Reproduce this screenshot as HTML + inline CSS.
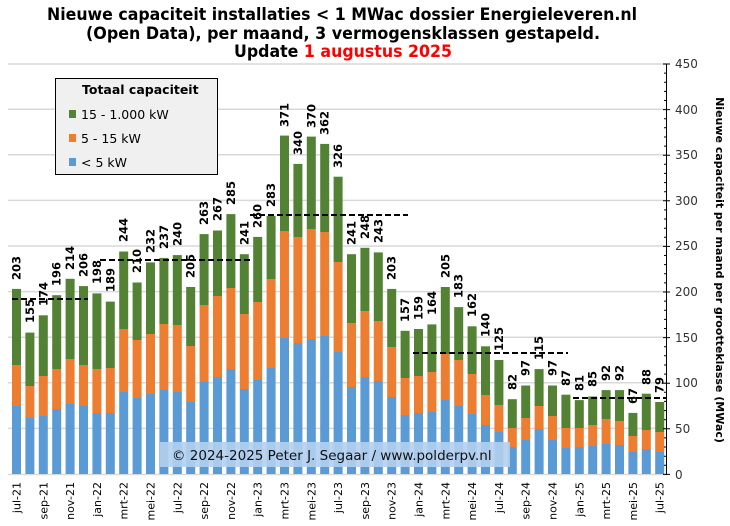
<!DOCTYPE html>
<html><head><meta charset="utf-8"><style>body{margin:0;background:#fff}svg{display:block}text{font-family:"DejaVu Sans","Liberation Sans",sans-serif}</style></head><body>
<svg width="730" height="526" viewBox="0 0 730 526" xmlns="http://www.w3.org/2000/svg">
<g font-family="Liberation Sans, sans-serif" font-weight="bold" font-size="17" text-anchor="middle">
<text x="342" y="20" textLength="590" lengthAdjust="spacingAndGlyphs">Nieuwe capaciteit installaties  &lt; 1 MWac dossier Energieleveren.nl</text>
<text x="343" y="39" textLength="514" lengthAdjust="spacingAndGlyphs">(Open Data), per maand, 3 vermogensklassen  gestapeld.</text>
<text x="343" y="57" textLength="218" lengthAdjust="spacingAndGlyphs">Update <tspan fill="#ff0000">1 augustus 2025</tspan></text>
</g>
<g stroke="#d9d9d9" stroke-width="1.5">
<line x1="8" x2="666" y1="64" y2="64"/><line x1="8" x2="666" y1="109.2" y2="109.2"/><line x1="8" x2="666" y1="154.8" y2="154.8"/><line x1="8" x2="666" y1="200.4" y2="200.4"/><line x1="8" x2="666" y1="246" y2="246"/><line x1="8" x2="666" y1="291.6" y2="291.6"/><line x1="8" x2="666" y1="337.2" y2="337.2"/><line x1="8" x2="666" y1="382.8" y2="382.8"/><line x1="8" x2="666" y1="428.4" y2="428.4"/><line x1="8" x2="666" y1="474.5" y2="474.5"/>
</g>
<g id="bars" font-size="11" font-weight="bold">
<g transform="translate(12,0)"><rect y="288.9" width="9" height="76.1" fill="#548235"/><rect y="365" width="9" height="41" fill="#ed7d31"/><rect y="406" width="9" height="68" fill="#5b9bd5"/></g>
<g transform="translate(25.4,0)"><rect y="332.6" width="9" height="53.4" fill="#548235"/><rect y="386" width="9" height="32" fill="#ed7d31"/><rect y="418" width="9" height="56" fill="#5b9bd5"/></g>
<g transform="translate(38.8,0)"><rect y="315.3" width="9" height="60.7" fill="#548235"/><rect y="376" width="9" height="40" fill="#ed7d31"/><rect y="416" width="9" height="58" fill="#5b9bd5"/></g>
<g transform="translate(52.2,0)"><rect y="295.2" width="9" height="73.8" fill="#548235"/><rect y="369" width="9" height="40" fill="#ed7d31"/><rect y="409" width="9" height="65" fill="#5b9bd5"/></g>
<g transform="translate(65.6,0)"><rect y="278.8" width="9" height="80.2" fill="#548235"/><rect y="359" width="9" height="45" fill="#ed7d31"/><rect y="404" width="9" height="70" fill="#5b9bd5"/></g>
<g transform="translate(79,0)"><rect y="286.1" width="9" height="78.9" fill="#548235"/><rect y="365" width="9" height="41" fill="#ed7d31"/><rect y="406" width="9" height="68" fill="#5b9bd5"/></g>
<g transform="translate(92.4,0)"><rect y="293.4" width="9" height="75.6" fill="#548235"/><rect y="369" width="9" height="44" fill="#ed7d31"/><rect y="413" width="9" height="61" fill="#5b9bd5"/></g>
<g transform="translate(105.8,0)"><rect y="301.6" width="9" height="66.4" fill="#548235"/><rect y="368" width="9" height="45" fill="#ed7d31"/><rect y="413" width="9" height="61" fill="#5b9bd5"/></g>
<g transform="translate(119.2,0)"><rect y="251.5" width="9" height="77.5" fill="#548235"/><rect y="329" width="9" height="63" fill="#ed7d31"/><rect y="392" width="9" height="82" fill="#5b9bd5"/></g>
<g transform="translate(132.6,0)"><rect y="282.5" width="9" height="57.5" fill="#548235"/><rect y="340" width="9" height="58" fill="#ed7d31"/><rect y="398" width="9" height="76" fill="#5b9bd5"/></g>
<g transform="translate(146,0)"><rect y="262.4" width="9" height="71.6" fill="#548235"/><rect y="334" width="9" height="60" fill="#ed7d31"/><rect y="394" width="9" height="80" fill="#5b9bd5"/></g>
<g transform="translate(159.4,0)"><rect y="257.9" width="9" height="66.1" fill="#548235"/><rect y="324" width="9" height="66" fill="#ed7d31"/><rect y="390" width="9" height="84" fill="#5b9bd5"/></g>
<g transform="translate(172.8,0)"><rect y="255.1" width="9" height="69.9" fill="#548235"/><rect y="325" width="9" height="67" fill="#ed7d31"/><rect y="392" width="9" height="82" fill="#5b9bd5"/></g>
<g transform="translate(186.2,0)"><rect y="287" width="9" height="59" fill="#548235"/><rect y="346" width="9" height="56" fill="#ed7d31"/><rect y="402" width="9" height="72" fill="#5b9bd5"/></g>
<g transform="translate(199.6,0)"><rect y="234.1" width="9" height="70.9" fill="#548235"/><rect y="305" width="9" height="77" fill="#ed7d31"/><rect y="382" width="9" height="92" fill="#5b9bd5"/></g>
<g transform="translate(213,0)"><rect y="230.5" width="9" height="65.5" fill="#548235"/><rect y="296" width="9" height="81" fill="#ed7d31"/><rect y="377" width="9" height="97" fill="#5b9bd5"/></g>
<g transform="translate(226.4,0)"><rect y="214.1" width="9" height="73.9" fill="#548235"/><rect y="288" width="9" height="81" fill="#ed7d31"/><rect y="369" width="9" height="105" fill="#5b9bd5"/></g>
<g transform="translate(239.8,0)"><rect y="254.2" width="9" height="59.8" fill="#548235"/><rect y="314" width="9" height="75" fill="#ed7d31"/><rect y="389" width="9" height="85" fill="#5b9bd5"/></g>
<g transform="translate(253.2,0)"><rect y="236.9" width="9" height="65.1" fill="#548235"/><rect y="302" width="9" height="78" fill="#ed7d31"/><rect y="380" width="9" height="94" fill="#5b9bd5"/></g>
<g transform="translate(266.6,0)"><rect y="215.9" width="9" height="63.1" fill="#548235"/><rect y="279" width="9" height="89" fill="#ed7d31"/><rect y="368" width="9" height="106" fill="#5b9bd5"/></g>
<g transform="translate(280,0)"><rect y="135.6" width="9" height="95.4" fill="#548235"/><rect y="231" width="9" height="107" fill="#ed7d31"/><rect y="338" width="9" height="136" fill="#5b9bd5"/></g>
<g transform="translate(293.4,0)"><rect y="163.9" width="9" height="73.1" fill="#548235"/><rect y="237" width="9" height="106" fill="#ed7d31"/><rect y="343" width="9" height="131" fill="#5b9bd5"/></g>
<g transform="translate(306.8,0)"><rect y="136.6" width="9" height="92.4" fill="#548235"/><rect y="229" width="9" height="110" fill="#ed7d31"/><rect y="339" width="9" height="135" fill="#5b9bd5"/></g>
<g transform="translate(320.2,0)"><rect y="143.9" width="9" height="88.1" fill="#548235"/><rect y="232" width="9" height="104" fill="#ed7d31"/><rect y="336" width="9" height="138" fill="#5b9bd5"/></g>
<g transform="translate(333.6,0)"><rect y="176.7" width="9" height="85.3" fill="#548235"/><rect y="262" width="9" height="90" fill="#ed7d31"/><rect y="352" width="9" height="122" fill="#5b9bd5"/></g>
<g transform="translate(347,0)"><rect y="254.2" width="9" height="68.8" fill="#548235"/><rect y="323" width="9" height="64" fill="#ed7d31"/><rect y="387" width="9" height="87" fill="#5b9bd5"/></g>
<g transform="translate(360.4,0)"><rect y="247.8" width="9" height="63.2" fill="#548235"/><rect y="311" width="9" height="66" fill="#ed7d31"/><rect y="377" width="9" height="97" fill="#5b9bd5"/></g>
<g transform="translate(373.8,0)"><rect y="252.4" width="9" height="68.6" fill="#548235"/><rect y="321" width="9" height="60" fill="#ed7d31"/><rect y="381" width="9" height="93" fill="#5b9bd5"/></g>
<g transform="translate(387.2,0)"><rect y="288.9" width="9" height="58.1" fill="#548235"/><rect y="347" width="9" height="50" fill="#ed7d31"/><rect y="397" width="9" height="77" fill="#5b9bd5"/></g>
<g transform="translate(400.6,0)"><rect y="330.8" width="9" height="47.2" fill="#548235"/><rect y="378" width="9" height="37" fill="#ed7d31"/><rect y="415" width="9" height="59" fill="#5b9bd5"/></g>
<g transform="translate(414,0)"><rect y="329" width="9" height="47" fill="#548235"/><rect y="376" width="9" height="37" fill="#ed7d31"/><rect y="413" width="9" height="61" fill="#5b9bd5"/></g>
<g transform="translate(427.4,0)"><rect y="324.4" width="9" height="47.6" fill="#548235"/><rect y="372" width="9" height="40" fill="#ed7d31"/><rect y="412" width="9" height="62" fill="#5b9bd5"/></g>
<g transform="translate(440.8,0)"><rect y="287" width="9" height="67" fill="#548235"/><rect y="354" width="9" height="46" fill="#ed7d31"/><rect y="400" width="9" height="74" fill="#5b9bd5"/></g>
<g transform="translate(454.2,0)"><rect y="307.1" width="9" height="52.9" fill="#548235"/><rect y="360" width="9" height="46" fill="#ed7d31"/><rect y="406" width="9" height="68" fill="#5b9bd5"/></g>
<g transform="translate(467.6,0)"><rect y="326.3" width="9" height="47.7" fill="#548235"/><rect y="374" width="9" height="40" fill="#ed7d31"/><rect y="414" width="9" height="60" fill="#5b9bd5"/></g>
<g transform="translate(481,0)"><rect y="346.3" width="9" height="48.7" fill="#548235"/><rect y="395" width="9" height="30" fill="#ed7d31"/><rect y="425" width="9" height="49" fill="#5b9bd5"/></g>
<g transform="translate(494.4,0)"><rect y="360" width="9" height="45" fill="#548235"/><rect y="405" width="9" height="27" fill="#ed7d31"/><rect y="432" width="9" height="42" fill="#5b9bd5"/></g>
<g transform="translate(507.8,0)"><rect y="399.2" width="9" height="28.8" fill="#548235"/><rect y="428" width="9" height="19" fill="#ed7d31"/><rect y="447" width="9" height="27" fill="#5b9bd5"/></g>
<g transform="translate(521.2,0)"><rect y="385.5" width="9" height="32.5" fill="#548235"/><rect y="418" width="9" height="22" fill="#ed7d31"/><rect y="440" width="9" height="34" fill="#5b9bd5"/></g>
<g transform="translate(534.6,0)"><rect y="369.1" width="9" height="36.9" fill="#548235"/><rect y="406" width="9" height="23" fill="#ed7d31"/><rect y="429" width="9" height="45" fill="#5b9bd5"/></g>
<g transform="translate(548,0)"><rect y="385.5" width="9" height="30.5" fill="#548235"/><rect y="416" width="9" height="24" fill="#ed7d31"/><rect y="440" width="9" height="34" fill="#5b9bd5"/></g>
<g transform="translate(561.4,0)"><rect y="394.7" width="9" height="33.3" fill="#548235"/><rect y="428" width="9" height="20" fill="#ed7d31"/><rect y="448" width="9" height="26" fill="#5b9bd5"/></g>
<g transform="translate(574.8,0)"><rect y="400.1" width="9" height="27.9" fill="#548235"/><rect y="428" width="9" height="19" fill="#ed7d31"/><rect y="447" width="9" height="27" fill="#5b9bd5"/></g>
<g transform="translate(588.2,0)"><rect y="396.5" width="9" height="28.5" fill="#548235"/><rect y="425" width="9" height="21" fill="#ed7d31"/><rect y="446" width="9" height="28" fill="#5b9bd5"/></g>
<g transform="translate(601.6,0)"><rect y="390.1" width="9" height="28.9" fill="#548235"/><rect y="419" width="9" height="25" fill="#ed7d31"/><rect y="444" width="9" height="30" fill="#5b9bd5"/></g>
<g transform="translate(615,0)"><rect y="390.1" width="9" height="30.9" fill="#548235"/><rect y="421" width="9" height="24" fill="#ed7d31"/><rect y="445" width="9" height="29" fill="#5b9bd5"/></g>
<g transform="translate(628.4,0)"><rect y="412.9" width="9" height="23.1" fill="#548235"/><rect y="436" width="9" height="16" fill="#ed7d31"/><rect y="452" width="9" height="22" fill="#5b9bd5"/></g>
<g transform="translate(641.8,0)"><rect y="393.7" width="9" height="36.3" fill="#548235"/><rect y="430" width="9" height="19" fill="#ed7d31"/><rect y="449" width="9" height="25" fill="#5b9bd5"/></g>
<g transform="translate(655.2,0)"><rect y="402" width="9" height="30" fill="#548235"/><rect y="432" width="9" height="20" fill="#ed7d31"/><rect y="452" width="9" height="22" fill="#5b9bd5"/></g>
</g>
<g font-size="11.5" font-weight="bold" fill="#000">
<text transform="translate(20.5,280) rotate(-90)">203</text>
<text transform="translate(33.9,323) rotate(-90)">155</text>
<text transform="translate(47.3,306) rotate(-90)">174</text>
<text transform="translate(60.7,286) rotate(-90)">196</text>
<text transform="translate(74.1,270) rotate(-90)">214</text>
<text transform="translate(87.5,277) rotate(-90)">206</text>
<text transform="translate(100.9,284) rotate(-90)">198</text>
<text transform="translate(114.3,292) rotate(-90)">189</text>
<text transform="translate(127.7,242) rotate(-90)">244</text>
<text transform="translate(141.1,273) rotate(-90)">210</text>
<text transform="translate(154.5,253) rotate(-90)">232</text>
<text transform="translate(167.9,249) rotate(-90)">237</text>
<text transform="translate(181.3,246) rotate(-90)">240</text>
<text transform="translate(194.7,278) rotate(-90)">205</text>
<text transform="translate(208.1,225) rotate(-90)">263</text>
<text transform="translate(221.5,221) rotate(-90)">267</text>
<text transform="translate(234.9,205) rotate(-90)">285</text>
<text transform="translate(248.3,245) rotate(-90)">241</text>
<text transform="translate(261.7,228) rotate(-90)">260</text>
<text transform="translate(275.1,207) rotate(-90)">283</text>
<text transform="translate(288.5,127) rotate(-90)">371</text>
<text transform="translate(301.9,155) rotate(-90)">340</text>
<text transform="translate(315.3,128) rotate(-90)">370</text>
<text transform="translate(328.7,135) rotate(-90)">362</text>
<text transform="translate(342.1,168) rotate(-90)">326</text>
<text transform="translate(355.5,245) rotate(-90)">241</text>
<text transform="translate(368.9,239) rotate(-90)">248</text>
<text transform="translate(382.3,243) rotate(-90)">243</text>
<text transform="translate(395.7,280) rotate(-90)">203</text>
<text transform="translate(409.1,322) rotate(-90)">157</text>
<text transform="translate(422.5,320) rotate(-90)">159</text>
<text transform="translate(435.9,315) rotate(-90)">164</text>
<text transform="translate(449.3,278) rotate(-90)">205</text>
<text transform="translate(462.7,298) rotate(-90)">183</text>
<text transform="translate(476.1,317) rotate(-90)">162</text>
<text transform="translate(489.5,337) rotate(-90)">140</text>
<text transform="translate(502.9,351) rotate(-90)">125</text>
<text transform="translate(516.3,390) rotate(-90)">82</text>
<text transform="translate(529.7,376) rotate(-90)">97</text>
<text transform="translate(543.1,360) rotate(-90)">115</text>
<text transform="translate(556.5,376) rotate(-90)">97</text>
<text transform="translate(569.9,386) rotate(-90)">87</text>
<text transform="translate(583.3,391) rotate(-90)">81</text>
<text transform="translate(596.7,387) rotate(-90)">85</text>
<text transform="translate(610.1,381) rotate(-90)">92</text>
<text transform="translate(623.5,381) rotate(-90)">92</text>
<text transform="translate(636.9,404) rotate(-90)">67</text>
<text transform="translate(650.3,385) rotate(-90)">88</text>
<text transform="translate(663.7,393) rotate(-90)">79</text>
</g>
<g stroke="#000" stroke-width="2" stroke-dasharray="6,3">
<line x1="12" x2="88" y1="299" y2="299"/>
<line x1="100" x2="251" y1="260" y2="260"/>
<line x1="250" x2="408" y1="215" y2="215"/>
<line x1="413" x2="568" y1="353" y2="353"/>
<line x1="573" x2="666" y1="398" y2="398"/>
</g>
<rect x="160" y="442" width="350" height="25" fill="#b4d0f0" opacity="0.9"/>
<text x="172" y="460" font-size="13.5" fill="#111">© 2024-2025  Peter J. Segaar / www.polderpv.nl</text>
<rect x="55.5" y="78.5" width="162" height="96" fill="#f0f0f0" stroke="#000" stroke-width="1"/>
<text x="82" y="94" font-size="12.5" font-weight="bold">Totaal capaciteit</text>
<rect x="69" y="110" width="7" height="8" fill="#548235"/><text x="81" y="119" font-size="12.5">15 - 1.000 kW</text>
<rect x="69" y="134" width="7" height="8" fill="#ed7d31"/><text x="81" y="143" font-size="12.5">5 - 15 kW</text>
<rect x="69" y="158" width="7" height="8" fill="#5b9bd5"/><text x="81" y="167" font-size="12.5">&lt; 5 kW</text>
<g stroke="#000" stroke-width="1">
<line x1="666.5" x2="666.5" y1="64" y2="475"/>
<path d="M663 64h7M663 109.6h7M663 155.2h7M663 200.8h7M663 246.4h7M663 292h7M663 337.6h7M663 383.2h7M663 428.8h7M663 474.4h7"/>
<path d="M664 73.1h3M664 82.2h3M664 91.4h3M664 100.5h3M664 118.7h3M664 127.8h3M664 137h3M664 146.1h3M664 164.3h3M664 173.4h3M664 182.6h3M664 191.7h3M664 209.9h3M664 219h3M664 228.2h3M664 237.3h3M664 255.5h3M664 264.6h3M664 273.8h3M664 282.9h3M664 301.1h3M664 310.2h3M664 319.4h3M664 328.5h3M664 346.7h3M664 355.8h3M664 365h3M664 374.1h3M664 392.3h3M664 401.4h3M664 410.6h3M664 419.7h3M664 437.9h3M664 447h3M664 456.2h3M664 465.3h3"/>
</g>
<g font-size="12" fill="#333">
<text x="675" y="68">450</text><text x="675" y="114">400</text><text x="675" y="159">350</text><text x="675" y="205">300</text><text x="675" y="250">250</text><text x="675" y="296">200</text><text x="675" y="342">150</text><text x="675" y="387">100</text><text x="675" y="433">50</text><text x="675" y="479">0</text>
</g>
<text transform="translate(716,270) rotate(90)" font-size="11" font-weight="bold" text-anchor="middle">Nieuwe capaciteit per maand per grootteklasse (MWac)</text>
<g font-size="11" text-anchor="end" fill="#000">
<text transform="translate(20.5,482) rotate(-90)">jul-21</text>
<text transform="translate(47.3,482) rotate(-90)">sep-21</text>
<text transform="translate(74.1,482) rotate(-90)">nov-21</text>
<text transform="translate(100.9,482) rotate(-90)">jan-22</text>
<text transform="translate(127.7,482) rotate(-90)">mrt-22</text>
<text transform="translate(154.5,482) rotate(-90)">mei-22</text>
<text transform="translate(181.3,482) rotate(-90)">jul-22</text>
<text transform="translate(208.1,482) rotate(-90)">sep-22</text>
<text transform="translate(234.9,482) rotate(-90)">nov-22</text>
<text transform="translate(261.7,482) rotate(-90)">jan-23</text>
<text transform="translate(288.5,482) rotate(-90)">mrt-23</text>
<text transform="translate(315.3,482) rotate(-90)">mei-23</text>
<text transform="translate(342.1,482) rotate(-90)">jul-23</text>
<text transform="translate(368.9,482) rotate(-90)">sep-23</text>
<text transform="translate(395.7,482) rotate(-90)">nov-23</text>
<text transform="translate(422.5,482) rotate(-90)">jan-24</text>
<text transform="translate(449.3,482) rotate(-90)">mrt-24</text>
<text transform="translate(476.1,482) rotate(-90)">mei-24</text>
<text transform="translate(502.9,482) rotate(-90)">jul-24</text>
<text transform="translate(529.7,482) rotate(-90)">sep-24</text>
<text transform="translate(556.5,482) rotate(-90)">nov-24</text>
<text transform="translate(583.3,482) rotate(-90)">jan-25</text>
<text transform="translate(610.1,482) rotate(-90)">mrt-25</text>
<text transform="translate(636.9,482) rotate(-90)">mei-25</text>
<text transform="translate(663.7,482) rotate(-90)">jul-25</text>
</g>
</svg>
</body></html>
